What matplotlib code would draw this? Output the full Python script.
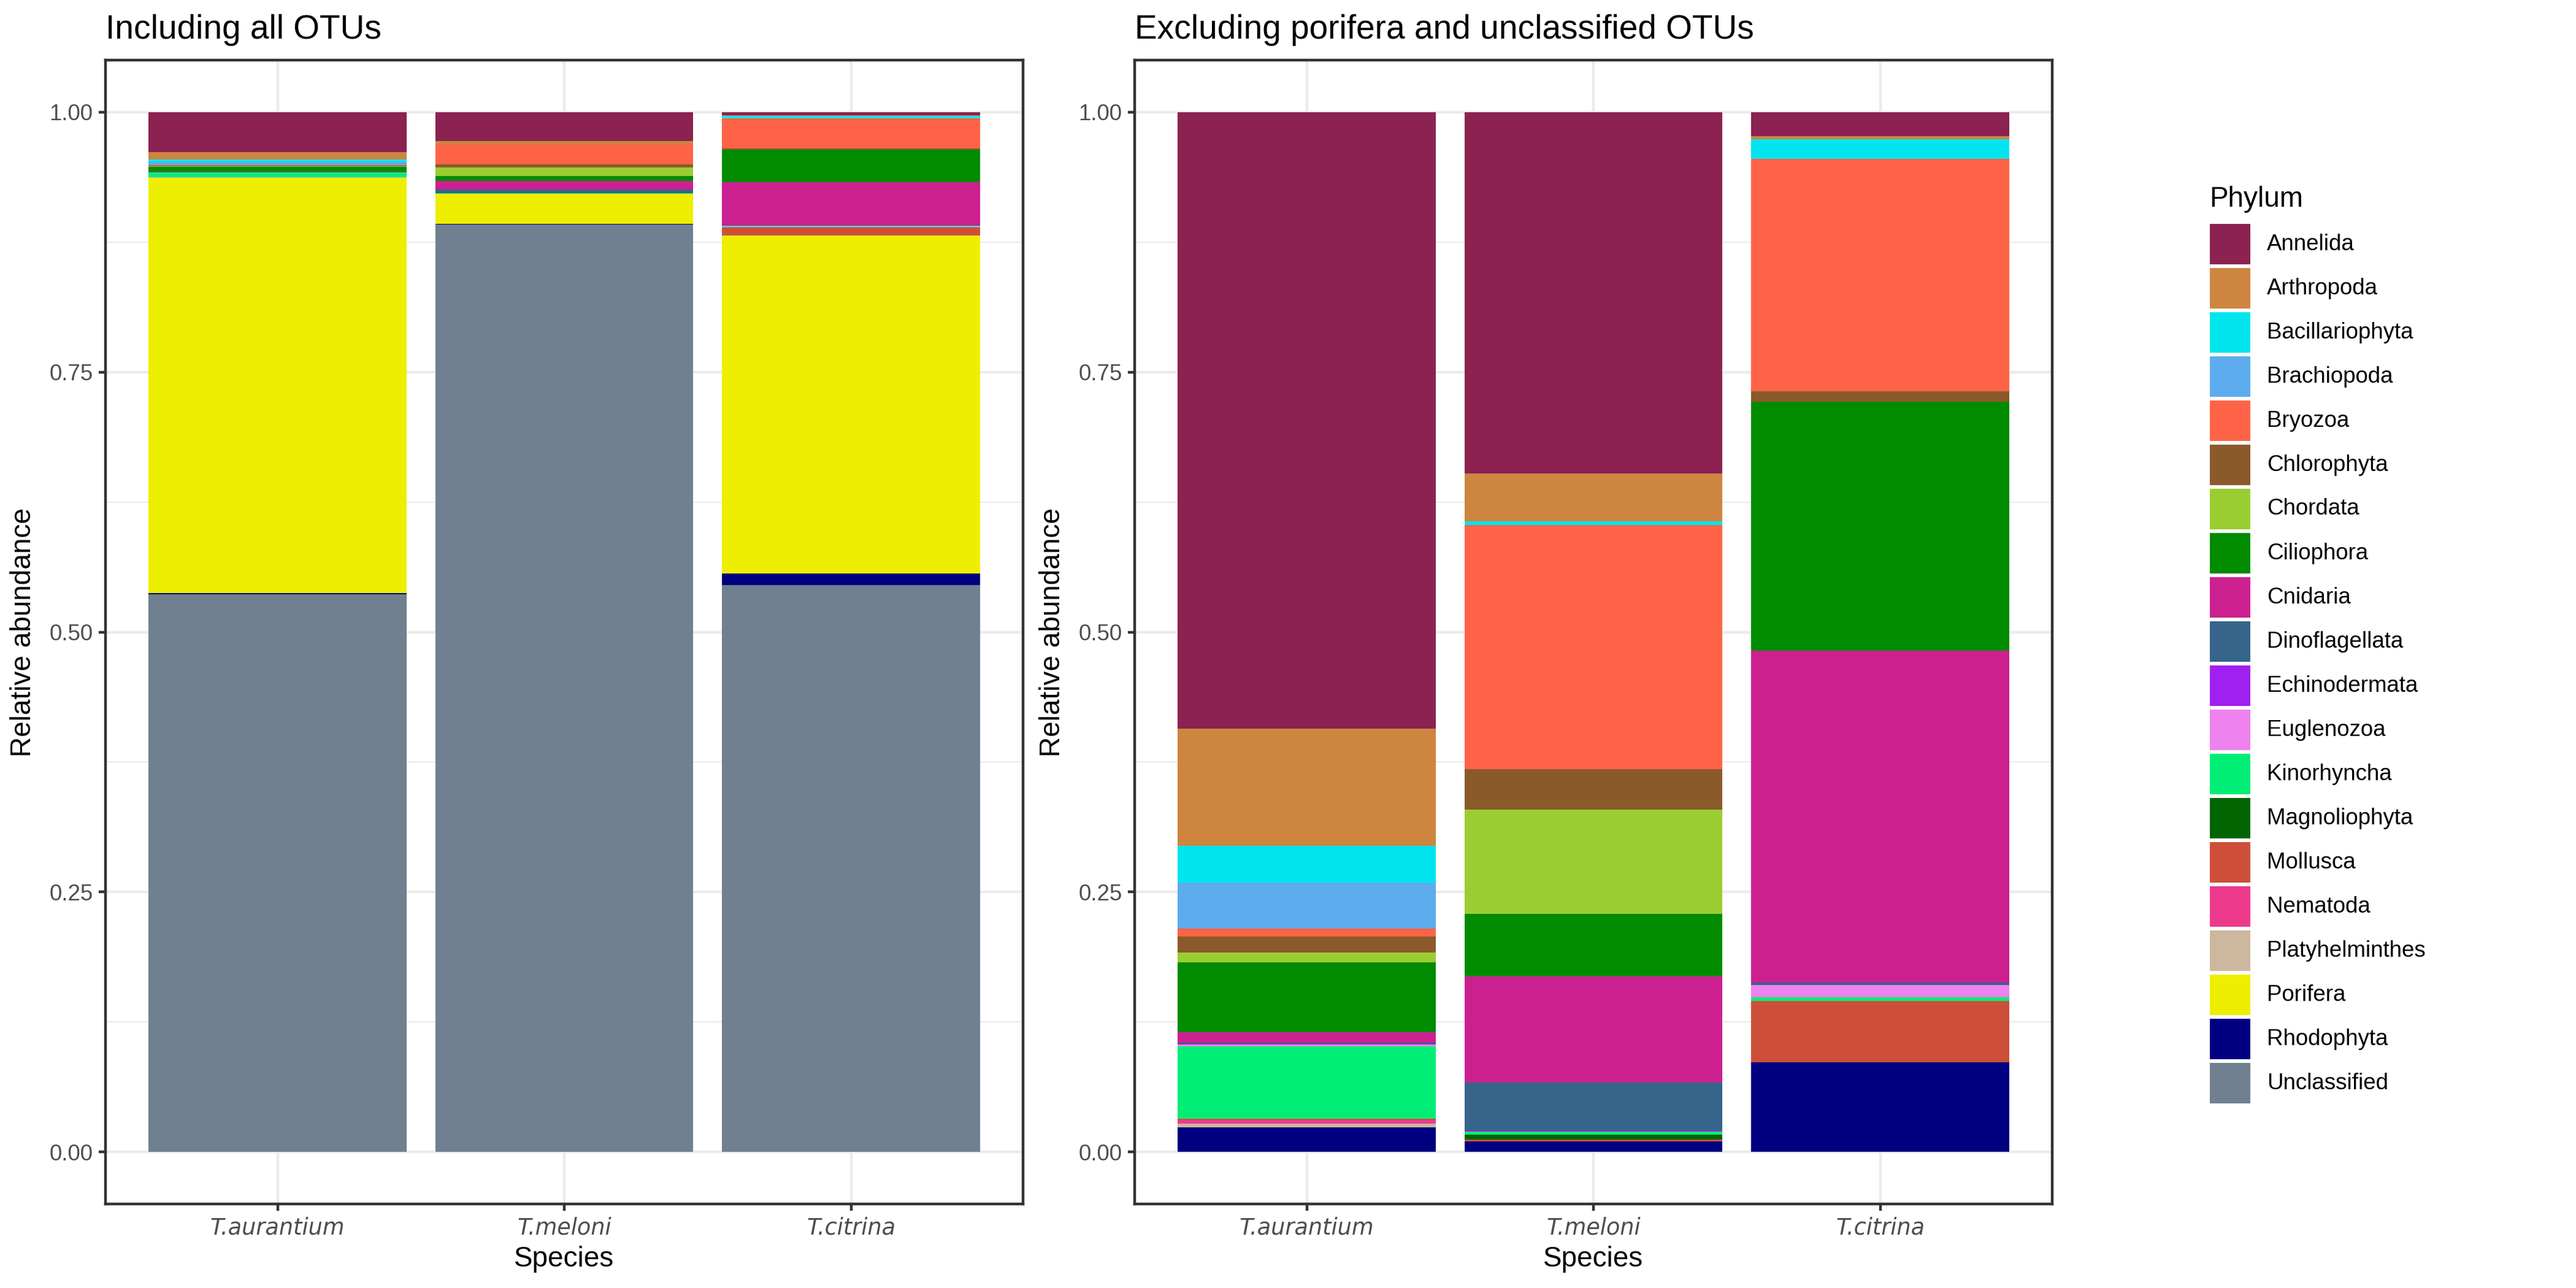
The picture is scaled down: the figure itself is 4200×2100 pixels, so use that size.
import numpy as np
import matplotlib
matplotlib.use('Agg')
import matplotlib.pyplot as plt
from matplotlib.patches import Rectangle

plt.rcParams['font.family'] = ['Liberation Sans', 'DejaVu Sans']

species = ['T.aurantium', 'T.meloni', 'T.citrina']

phyla = ['Annelida', 'Arthropoda', 'Bacillariophyta', 'Brachiopoda', 'Bryozoa',
         'Chlorophyta', 'Chordata', 'Ciliophora', 'Cnidaria', 'Dinoflagellata',
         'Echinodermata', 'Euglenozoa', 'Kinorhyncha', 'Magnoliophyta', 'Mollusca',
         'Nematoda', 'Platyhelminthes', 'Porifera', 'Rhodophyta', 'Unclassified']

colors = ['#8B2252', '#CD853F', '#00E5EE', '#5CACEE', '#FF6347',
          '#8B5A2B', '#9ACD32', '#008B00', '#CD2090', '#36648B',
          '#A020F0', '#EE82EE', '#00EE76', '#006400', '#CD4F39',
          '#EE3A8C', '#CDB79E', '#EEEE00', '#000080', '#708090']

# composition without porifera / unclassified (right panel), order as phyla minus those two
aurantium = [0.5930, 0.1124, 0.0356, 0.0444, 0.0077, 0.0153, 0.0090, 0.0677, 0.0098, 0.0012,
             0.0006, 0.0018, 0.0695, 0.0000, 0.0012, 0.0035, 0.0037, 0.0236]
meloni = [0.3476, 0.0460, 0.0032, 0.0000, 0.2349, 0.0389, 0.1002, 0.0604, 0.1021, 0.0461,
          0.0012, 0.0000, 0.0029, 0.0047, 0.0018, 0.0000, 0.0000, 0.0100]
citrina = [0.0234, 0.0027, 0.0189, 0.0000, 0.2237, 0.0100, 0.0000, 0.2394, 0.3190, 0.0026,
           0.0000, 0.0118, 0.0030, 0.0000, 0.0595, 0.0000, 0.0000, 0.0860]

# share of all OTUs that are porifera / unclassified (left panel)
porifera = [0.3995, 0.0284, 0.3250]
unclassified = [0.5360, 0.8920, 0.5450]

classified = [phy for phy in phyla if phy not in ('Porifera', 'Unclassified')]
excl = np.array([aurantium, meloni, citrina]).T  # phyla x species
excl = excl / excl.sum(axis=0)

incl = np.zeros((len(phyla), 3))
share = 1 - np.array(porifera) - np.array(unclassified)
for i, phy in enumerate(classified):
    incl[phyla.index(phy)] = excl[i] * share
incl[phyla.index('Porifera')] = porifera
incl[phyla.index('Unclassified')] = unclassified

excl_full = np.zeros((len(phyla), 3))
for i, phy in enumerate(classified):
    excl_full[phyla.index(phy)] = excl[i]

fig = plt.figure(figsize=(14, 7), dpi=300)
W, H = 4200, 2100
ax1 = fig.add_axes([172 / W, 1 - 1963 / H, 1496 / W, 1865 / H])
ax2 = fig.add_axes([1850 / W, 1 - 1963 / H, 1496 / W, 1865 / H])

x = np.arange(1, 4)
for ax, data, title in [(ax1, incl, 'Including all OTUs'),
                        (ax2, excl_full, 'Excluding porifera and unclassified OTUs')]:
    bottom = np.zeros(3)
    # ggplot stacks the last level at the bottom
    for k in range(len(phyla) - 1, -1, -1):
        ax.bar(x, data[k], width=0.9, bottom=bottom, color=colors[k],
               linewidth=0, zorder=2)
        bottom = bottom + data[k]

    ax.set_xlim(0.4, 3.6)
    ax.set_ylim(-0.05, 1.05)
    ax.set_xticks(x)
    ax.set_xticklabels(species, fontstyle='italic', fontsize=8.8, color='#4D4D4D',
                       family='DejaVu Sans')
    ax.set_yticks([0, 0.25, 0.5, 0.75, 1.0])
    ax.set_yticklabels(['0.00', '0.25', '0.50', '0.75', '1.00'], fontsize=8.8, color='#4D4D4D')
    ax.set_yticks([0.125, 0.375, 0.625, 0.875], minor=True)
    ax.tick_params(axis='both', which='major', length=2.75, width=1.07,
                   color='#333333', pad=2.2)
    ax.tick_params(axis='y', which='minor', length=0)
    ax.grid(True, which='major', color='#EBEBEB', linewidth=1.07, zorder=0)
    ax.grid(True, which='minor', axis='y', color='#EBEBEB', linewidth=0.53, zorder=0)
    ax.set_axisbelow(True)
    for sp in ax.spines.values():
        sp.set_color('#333333')
        sp.set_linewidth(1.07)
    ax.set_xlabel('Species', fontsize=11)
    ax.set_ylabel('Relative abundance', fontsize=11)
    ax.xaxis.set_label_coords(0.5, -0.0365)
    ax.yaxis.set_label_coords(-0.075, 0.5)
    fig.text(ax.get_position().x0, 1 - 63 / H, title, fontsize=13.2,
             ha='left', va='baseline')

# legend drawn by hand, ggplot style
fig.text(3602 / W, 1 - 337 / H, 'Phylum', fontsize=11, ha='left', va='baseline')
for i, (phy, c) in enumerate(zip(phyla, colors)):
    cy = 398 + 72 * i
    fig.patches.append(Rectangle((3603 / W, 1 - (cy + 33) / H), 66 / W, 66 / H,
                                 transform=fig.transFigure, facecolor=c,
                                 edgecolor='none'))
    fig.text(3696 / W, 1 - cy / H, phy, fontsize=8.8, ha='left', va='center')

fig.savefig('out.png', dpi=300, facecolor='white')
